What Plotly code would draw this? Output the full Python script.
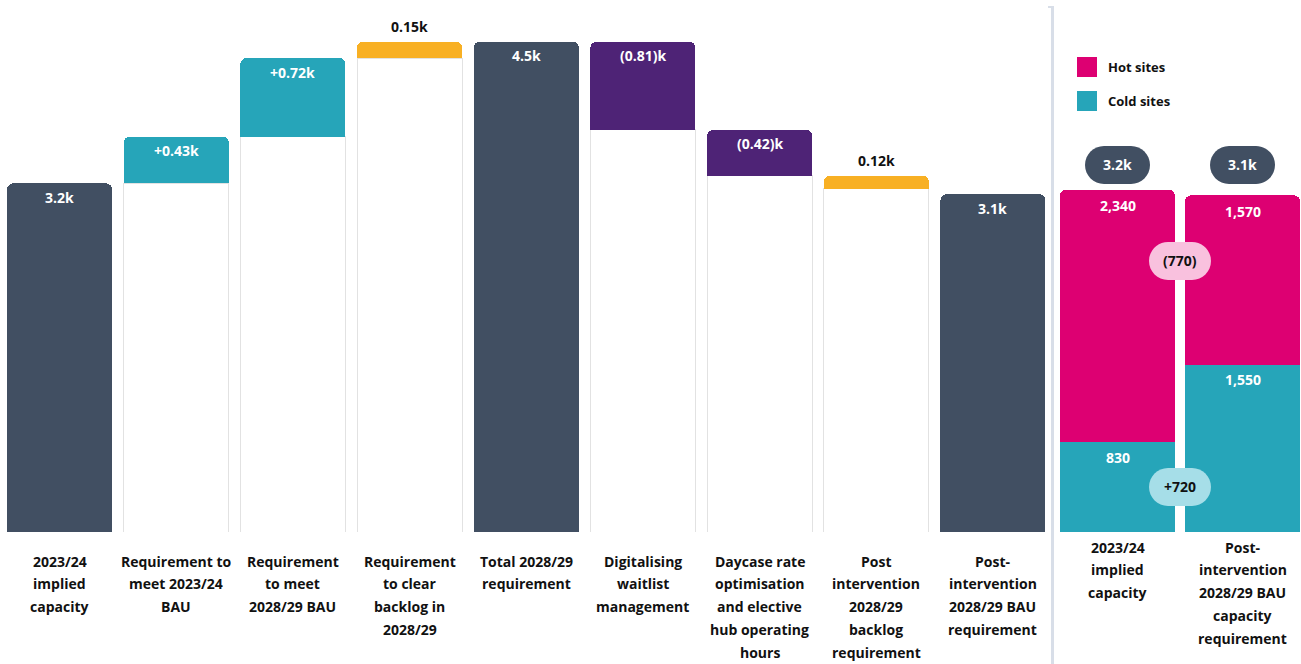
import plotly.graph_objects as go

# ---- Waterfall: capacity bridge (thousands) ----
steps = [
    "2023/24 implied capacity",
    "Requirement to meet 2023/24 BAU",
    "Requirement to meet 2028/29 BAU",
    "Requirement to clear backlog in 2028/29",
    "Total 2028/29 requirement",
    "Digitalising waitlist management",
    "Daycase rate optimisation and elective hub operating hours",
    "Post intervention 2028/29 backlog requirement",
    "Post-intervention 2028/29 BAU requirement",
]
step_lines = [
    ["2023/24", "implied", "capacity"],
    ["Requirement to", "meet 2023/24", "BAU"],
    ["Requirement", "to meet", "2028/29 BAU"],
    ["Requirement", "to clear", "backlog in", "2028/29"],
    ["Total 2028/29", "requirement"],
    ["Digitalising", "waitlist", "management"],
    ["Daycase rate", "optimisation", "and elective", "hub operating", "hours"],
    ["Post", "intervention", "2028/29", "backlog", "requirement"],
    ["Post-", "intervention", "2028/29 BAU", "requirement"],
]
# total | increase | backlog (stacked on running total) | portion (top share of running total) | decrease
step_kind = ["total", "increase", "increase", "backlog", "total",
             "decrease", "decrease", "portion", "total"]
step_value = [3.2, 0.43, 0.72, 0.15, 4.5, -0.81, -0.42, 0.12, 3.1]

# ---- Hot / cold site split (beds) ----
split_cats = ["2023/24 implied capacity",
              "Post-intervention 2028/29 BAU capacity requirement"]
split_lines = [
    ["2023/24", "implied", "capacity"],
    ["Post-", "intervention", "2028/29 BAU", "capacity", "requirement"],
]
hot_sites = [2340, 1570]
cold_sites = [830, 1550]

SLATE = "#414F62"
TEAL = "#26A5B9"
AMBER = "#F8B024"
PURPLE = "#4E2376"
MAGENTA = "#DD0072"
PINK_PILL = "#F9C1DE"
CYAN_PILL = "#A6DEE8"
FONT = "Open Sans"
TXT = "#111111"

# Build waterfall segments from the running total
base_seg, total_seg, inc_seg, back_seg, dec_seg = [], [], [], [], []
seg_top, seg_label, label_inside = [], [], []
running = 0.0
for kind, v in zip(step_kind, step_value):
    b = t = i = k = d = None
    if kind == "total":
        t = v
        running = v
        top = v
        lab = f"{v:.1f}k"
    elif kind == "increase":
        b, i = running, v
        running += v
        top = running
        lab = f"+{v:.2f}k"
    elif kind == "backlog":
        b, k = running, v
        running += v
        top = running
        lab = f"{v:.2f}k"
    elif kind == "portion":
        b, k = running - v, v
        top = running
        lab = f"{v:.2f}k"
    else:  # decrease
        running += v
        b, d = running, -v
        top = running - v
        lab = f"({abs(v):.2f})k"
    base_seg.append(b)
    total_seg.append(t)
    inc_seg.append(i)
    back_seg.append(k)
    dec_seg.append(d)
    seg_top.append(top)
    seg_label.append(lab)
    label_inside.append(kind not in ("backlog", "portion"))

fig = go.Figure()
W1 = 0.9
W2 = 0.92

fig.add_trace(go.Bar(x=steps, y=base_seg, width=W1, marker=dict(color="white", line=dict(color="#E2E2E2", width=1)),
                     xaxis="x", yaxis="y", hoverinfo="skip"))
fig.add_trace(go.Bar(x=steps, y=total_seg, width=W1, marker=dict(color=SLATE, line=dict(width=0)),
                     xaxis="x", yaxis="y"))
fig.add_trace(go.Bar(x=steps, y=inc_seg, width=W1, marker=dict(color=TEAL, line=dict(width=0)),
                     xaxis="x", yaxis="y"))
fig.add_trace(go.Bar(x=steps, y=back_seg, width=W1, marker=dict(color=AMBER, line=dict(width=0)),
                     xaxis="x", yaxis="y"))
fig.add_trace(go.Bar(x=steps, y=dec_seg, width=W1, marker=dict(color=PURPLE, line=dict(width=0)),
                     xaxis="x", yaxis="y"))

fig.add_trace(go.Bar(x=split_cats, y=cold_sites, width=W2, marker=dict(color=TEAL, line=dict(width=0)),
                     xaxis="x2", yaxis="y2", name="Cold sites"))
fig.add_trace(go.Bar(x=split_cats, y=hot_sites, width=W2, marker=dict(color=MAGENTA, line=dict(width=0)),
                     xaxis="x2", yaxis="y2", name="Hot sites"))

ann = []
bold = dict(family=FONT, size=14, weight="bold")

# waterfall value labels
for cat, top, lab, inside in zip(steps, seg_top, seg_label, label_inside):
    ann.append(dict(x=cat, y=top, xref="x", yref="y", text=lab, showarrow=False,
                    yanchor="middle", yshift=-14 if inside else 15,
                    font=dict(bold, color="white" if inside else TXT)))

# category labels, one line at a time
LINE = 22.8
for cat, lines in zip(steps, step_lines):
    for n, line in enumerate(lines):
        ann.append(dict(x=cat, y=0, xref="x", yref="y", text=line, showarrow=False,
                        yanchor="middle", yshift=-29 - LINE * n, font=dict(bold, color=TXT)))
for cat, lines in zip(split_cats, split_lines):
    for n, line in enumerate(lines):
        ann.append(dict(x=cat, y=0, xref="x2", yref="y2", text=line, showarrow=False,
                        yanchor="middle", yshift=-15 - LINE * n, font=dict(bold, color=TXT)))

# segment labels on the split bars
for cat, c, h in zip(split_cats, cold_sites, hot_sites):
    ann.append(dict(x=cat, y=c, xref="x2", yref="y2", text=f"{c:,}", showarrow=False,
                    yanchor="middle", yshift=-15, font=dict(bold, color="white")))
    ann.append(dict(x=cat, y=c + h, xref="x2", yref="y2", text=f"{h:,}", showarrow=False,
                    yanchor="middle", yshift=-16, font=dict(bold, color="white")))


def pill_path(w, h, dy):
    """Rounded pill centred on the anchor, raised by dy pixels."""
    r = h / 2.0
    cx = w / 2.0 - r
    k = 0.5523 * r
    pts = lambda x, y: f"{x},{y + dy}"
    return (f"M {pts(-cx, -r)} L {pts(cx, -r)} "
            f"C {pts(cx + k, -r)} {pts(cx + r, -k)} {pts(cx + r, 0)} "
            f"C {pts(cx + r, k)} {pts(cx + k, r)} {pts(cx, r)} "
            f"L {pts(-cx, r)} "
            f"C {pts(-cx - k, r)} {pts(-cx - r, k)} {pts(-cx - r, 0)} "
            f"C {pts(-cx - r, -k)} {pts(-cx - k, -r)} {pts(-cx, -r)} Z")


shapes = []


def add_pill(xv, yv, dy, text, fill, txtcolor, w):
    shapes.append(dict(type="path", xref="x2", yref="y2", xsizemode="pixel", ysizemode="pixel",
                       xanchor=xv, yanchor=yv, path=pill_path(w, 38, dy),
                       fillcolor=fill, line=dict(width=0), layer="above"))
    ann.append(dict(x=xv, y=yv, xref="x2", yref="y2", text=text, showarrow=False,
                    yanchor="middle", yshift=dy, font=dict(bold, color=txtcolor)))


totals = [h + c for h, c in zip(hot_sites, cold_sites)]
for i, tot in enumerate(totals):
    add_pill(i, max(totals), 25, f"{tot / 1000:.1f}k", SLATE, "white", 65)

d_hot = hot_sites[1] - hot_sites[0]
d_cold = cold_sites[1] - cold_sites[0]
fmt = lambda d: f"+{d:,}" if d >= 0 else f"({abs(d):,})"
add_pill(0.5, totals[0], -71, fmt(d_hot), PINK_PILL, TXT, 62)
add_pill(0.5, cold_sites[0], -44.5, fmt(d_cold), CYAN_PILL, TXT, 62)

# legend swatches
for n, (name, col) in enumerate([("Hot sites", MAGENTA), ("Cold sites", TEAL)]):
    y0 = 1 - (57 + 34 * n) / 532
    shapes.append(dict(type="rect", xref="paper", yref="paper",
                       x0=1077 / 1301, x1=1097 / 1301, y0=y0 - 20 / 532, y1=y0,
                       fillcolor=col, line=dict(width=0)))
    ann.append(dict(x=1106 / 1301, y=y0 - 10 / 532, xref="paper", yref="paper", text=name,
                    showarrow=False, xanchor="left", yanchor="middle",
                    font=dict(family=FONT, size=13, weight="bold", color=TXT)))

# panel divider
shapes.append(dict(type="line", xref="paper", yref="paper", x0=1052.5 / 1301, x1=1052.5 / 1301,
                   y0=1 - 7 / 532, y1=-132 / 532, line=dict(color="#D8DEE8", width=3)))
shapes.append(dict(type="line", xref="paper", yref="paper", x0=1048 / 1301, x1=1054 / 1301,
                   y0=1 - 7 / 532, y1=1 - 7 / 532, line=dict(color="#D8DEE8", width=2)))

fig.update_layout(
    width=1301, height=664,
    margin=dict(l=0, r=0, t=0, b=132),
    paper_bgcolor="white", plot_bgcolor="white",
    barmode="stack", barcornerradius=6,
    showlegend=False,
    font=dict(family=FONT, color=TXT),
    xaxis=dict(domain=[1.2 / 1301, 1051.3 / 1301], type="category", range=[-0.5, 8.5],
               showticklabels=False, showgrid=False, zeroline=False, showline=False, ticks=""),
    yaxis=dict(range=[0, 4.883], visible=False, showgrid=False, zeroline=False),
    xaxis2=dict(domain=[1055 / 1301, 1], type="category", range=[-0.5, 1.468], anchor="y2",
                showticklabels=False, showgrid=False, zeroline=False, showline=False, ticks=""),
    yaxis2=dict(range=[0, 4930], anchor="x2", visible=False, showgrid=False, zeroline=False),
    annotations=ann,
    shapes=shapes,
)

fig.write_html("out.html")
